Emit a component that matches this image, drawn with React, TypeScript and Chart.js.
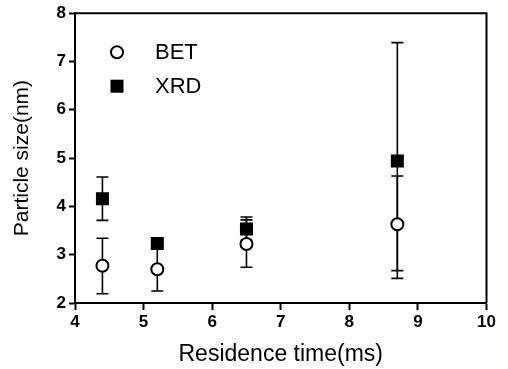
import React, { useEffect, useRef } from "react";
import { Chart, registerables } from "chart.js";

Chart.register(...registerables);

const xValues = [4.4, 5.2, 6.5, 8.7];
const betValues = [2.77, 2.70, 3.22, 3.63];
const betLow = [2.19, 2.25, 2.74, 2.67];
const betHigh = [3.34, 3.20, 3.72, 4.63];
const xrdValues = [4.16, 3.23, 3.53, 4.94];
const xrdLow = [3.71, 3.16, 3.30, 2.51];
const xrdHigh = [4.61, 3.30, 3.78, 7.39];
const xTicks = [4, 5, 6, 7, 8, 9, 10];
const yTicks = [2, 3, 4, 5, 6, 7, 8];
const seriesNames = ["BET", "XRD"];

const FONT = "'Liberation Sans', Arial, sans-serif";

const errorBarPlugin = {
  id: "errorBars",
  beforeDatasetsDraw(chart: any) {
    const ctx = chart.ctx;
    const xs = chart.scales.x;
    const ys = chart.scales.y;
    const sets = [
      [betLow, betHigh],
      [xrdLow, xrdHigh],
    ];
    ctx.save();
    ctx.strokeStyle = "#000";
    ctx.lineWidth = 1.6;
    sets.forEach(([lo, hi]) => {
      xValues.forEach((xv, i) => {
        const px = xs.getPixelForValue(xv);
        const y1 = ys.getPixelForValue(lo[i]);
        const y2 = ys.getPixelForValue(hi[i]);
        ctx.beginPath();
        ctx.moveTo(px, y1);
        ctx.lineTo(px, y2);
        ctx.moveTo(px - 6, y1);
        ctx.lineTo(px + 6, y1);
        ctx.moveTo(px - 6, y2);
        ctx.lineTo(px + 6, y2);
        ctx.stroke();
      });
    });
    ctx.restore();
  },
  afterDraw(chart: any) {
    const ctx = chart.ctx;
    const a = chart.chartArea;
    ctx.save();
    // frame top & right
    ctx.strokeStyle = "#000";
    ctx.lineWidth = 2;
    ctx.beginPath();
    ctx.moveTo(a.left, a.top);
    ctx.lineTo(a.right, a.top);
    ctx.lineTo(a.right, a.bottom);
    ctx.stroke();
    // legend
    const lx = a.left + 42;
    const ly1 = a.top + 39;
    const ly2 = a.top + 73;
    ctx.lineWidth = 2;
    ctx.fillStyle = "#fff";
    ctx.beginPath();
    ctx.arc(lx, ly1, 6, 0, Math.PI * 2);
    ctx.fill();
    ctx.stroke();
    ctx.fillStyle = "#000";
    ctx.fillRect(lx - 6.5, ly2 - 6.5, 13, 13);
    ctx.font = `22px ${FONT}`;
    ctx.textBaseline = "middle";
    ctx.textAlign = "left";
    ctx.fillText(seriesNames[0], a.left + 80, ly1 + 1);
    ctx.fillText(seriesNames[1], a.left + 80, ly2 + 1);
    ctx.restore();
  },
};

export default function App() {
  const ref = useRef<HTMLCanvasElement | null>(null);
  useEffect(() => {
    document.body.style.margin = "0";
    const canvas = ref.current!;
    const chart = new Chart(canvas, {
      type: "scatter",
      data: {
        datasets: [
          {
            label: seriesNames[0],
            data: xValues.map((x, i) => ({ x, y: betValues[i] })),
            pointStyle: "circle",
            pointRadius: 6,
            pointBorderWidth: 2,
            pointBackgroundColor: "#fff",
            pointBorderColor: "#000",
            order: 1,
          },
          {
            label: seriesNames[1],
            data: xValues.map((x, i) => ({ x, y: xrdValues[i] })),
            pointStyle: "rect",
            pointRadius: 9.2,
            pointBorderWidth: 0,
            pointBackgroundColor: "#000",
            pointBorderColor: "#000",
            order: 0,
          },
        ],
      },
      options: {
        animation: false,
        responsive: false,
        maintainAspectRatio: false,
        layout: { padding: { top: 13, right: 21.5, left: 0, bottom: 0 } },
        plugins: { legend: { display: false }, tooltip: { enabled: false } },
        scales: {
          x: {
            type: "linear",
            min: 4,
            max: 10,
            afterBuildTicks: (s: any) => {
              s.ticks = xTicks.map((v) => ({ value: v }));
            },
            afterFit: (s: any) => {
              s.height = 66;
            },
            grid: {
              display: true,
              drawOnChartArea: false,
              drawTicks: true,
              tickLength: 7,
              tickWidth: 2,
              color: "#000",
            },
            border: { display: true, color: "#000", width: 2 },
            ticks: {
              color: "#000",
              padding: 2,
              font: { family: FONT, size: 17, weight: "bold" },
              maxRotation: 0,
            },
            title: {
              display: true,
              text: "Residence time(ms)",
              color: "#000",
              font: { family: FONT, size: 23 },
              padding: { top: 0, bottom: 1 },
            },
          },
          y: {
            type: "linear",
            min: 2,
            max: 8,
            afterBuildTicks: (s: any) => {
              s.ticks = yTicks.map((v) => ({ value: v }));
            },
            afterFit: (s: any) => {
              s.width = 75;
            },
            grid: {
              display: true,
              drawOnChartArea: false,
              drawTicks: true,
              tickLength: 6,
              tickWidth: 2,
              color: "#000",
            },
            border: { display: true, color: "#000", width: 2 },
            ticks: {
              color: "#000",
              padding: 3,
              font: { family: FONT, size: 17, weight: "bold" },
            },
            title: {
              display: true,
              text: "Particle size(nm)",
              color: "#000",
              font: { family: FONT, size: 21 },
              padding: { top: 10, bottom: 0 },
            },
          },
        },
      },
      plugins: [errorBarPlugin],
    });
    return () => chart.destroy();
  }, []);
  return (
    <div style={{ width: 508, height: 369, background: "#fff" }}>
      <canvas ref={ref} width={508} height={369} style={{ display: "block" }} />
    </div>
  );
}
